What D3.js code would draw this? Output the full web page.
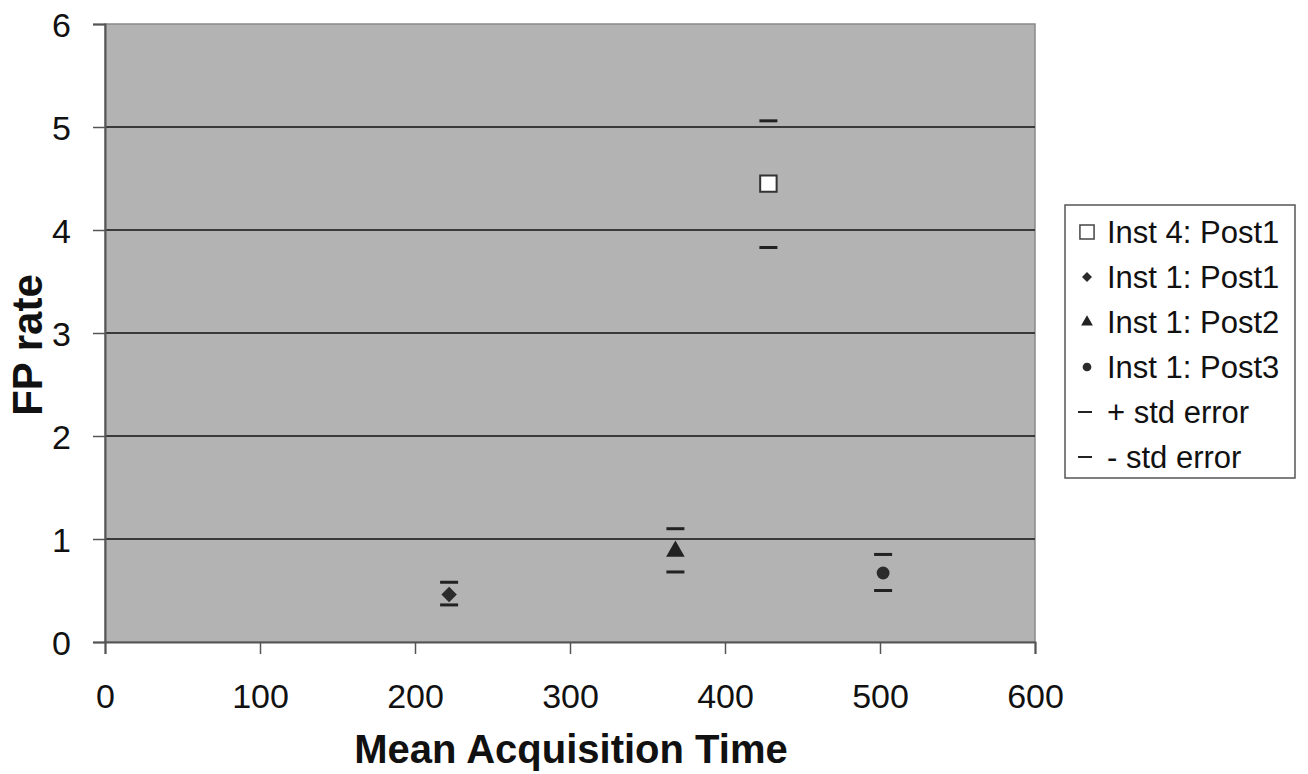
<!DOCTYPE html>
<html>
<head>
<meta charset="utf-8">
<script src="https://cdn.jsdelivr.net/npm/d3@7"></script>
<style>
  body { margin: 0; background: #fff; }
  svg { font-family: Arial, "Liberation Sans", sans-serif; }
</style>
</head>
<body>
<svg id="chart" width="1308" height="774"></svg>
<script>
// series
const seriesNames = ["Inst 4: Post1", "Inst 1: Post1", "Inst 1: Post2", "Inst 1: Post3"];
const meanTime = [428, 222, 368, 502];
const fpRate = [4.45, 0.46, 0.88, 0.67];
const upperErr = [5.06, 0.58, 1.10, 0.85];
const lowerErr = [3.83, 0.36, 0.68, 0.50];
const xTicks = [0, 100, 200, 300, 400, 500, 600];
const yTicks = [0, 1, 2, 3, 4, 5, 6];
const errLabels = ["+ std error", "- std error"];

const margin = { top: 24, right: 273, bottom: 132, left: 105 },
      width = 1308 - margin.left - margin.right,
      height = 774 - margin.top - margin.bottom;

const svg = d3.select("#chart");
const g = svg.append("g").attr("transform", `translate(${margin.left}, ${margin.top})`);

const x = d3.scaleLinear().domain([0, 600]).range([0, width]);
const y = d3.scaleLinear().domain([0, 6]).range([height, 0]);

// plot background
g.append("rect")
  .attr("width", width).attr("height", height)
  .attr("fill", "#b3b3b3")
  .attr("stroke", "#8a8a8a").attr("stroke-width", 1.5);

// gridlines
g.append("g").selectAll("line")
  .data(yTicks.filter(d => d > 0 && d < 6))
  .join("line")
  .attr("x1", 0).attr("x2", width)
  .attr("y1", d => y(d)).attr("y2", d => y(d))
  .attr("stroke", "#3a3a3a").attr("stroke-width", 2);

// axes
const xAxis = g.append("g")
  .attr("transform", `translate(0, ${height})`)
  .call(d3.axisBottom(x).tickValues(xTicks).tickFormat(d3.format("d")).tickSize(12).tickPadding(30));
const yAxis = g.append("g")
  .call(d3.axisLeft(y).tickValues(yTicks).tickFormat(d3.format("d")).tickSize(12).tickPadding(22));

[xAxis, yAxis].forEach(a => {
  a.select(".domain").attr("stroke", "#555").attr("stroke-width", 2);
  a.selectAll(".tick line").attr("stroke", "#555").attr("stroke-width", 1.5);
  a.selectAll("text").attr("font-size", 34).attr("fill", "#111")
   .attr("font-family", "Arial, 'Liberation Sans', sans-serif");
});
yAxis.selectAll("text").attr("dy", "0.36em");

// error bars
const capW = 18;
const errData = meanTime.flatMap((t, i) => [
  { t: t, v: upperErr[i] }, { t: t, v: lowerErr[i] }
]);
g.append("g").selectAll("line")
  .data(errData)
  .join("line")
  .attr("x1", d => x(d.t) - capW / 2).attr("x2", d => x(d.t) + capW / 2)
  .attr("y1", d => y(d.v)).attr("y2", d => y(d.v))
  .attr("stroke", "#222").attr("stroke-width", 3);

// markers (diamond = rotated square)
const symbols = [d3.symbolSquare, d3.symbolSquare, d3.symbolTriangle, d3.symbolCircle];
const rotations = [0, 45, 0, 0];
const plotSizes = [270, 120, 150, 130];
const fills = ["#fff", "#2b2b2b", "#222", "#2b2b2b"];
const strokes = ["#333", "none", "none", "none"];

g.append("g").selectAll("path")
  .data(seriesNames)
  .join("path")
  .attr("transform", (d, i) => `translate(${x(meanTime[i])}, ${y(fpRate[i])}) rotate(${rotations[i]})`)
  .attr("d", (d, i) => d3.symbol().type(symbols[i]).size(plotSizes[i])())
  .attr("fill", (d, i) => fills[i])
  .attr("stroke", (d, i) => strokes[i])
  .attr("stroke-width", 2);

// axis titles
svg.append("text")
  .attr("x", margin.left + width / 2 + 1).attr("y", 763)
  .attr("text-anchor", "middle")
  .attr("font-size", 40).attr("font-weight", "bold").attr("fill", "#111")
  .text("Mean Acquisition Time");

svg.append("text")
  .attr("transform", "translate(42, 345) rotate(-90)")
  .attr("text-anchor", "middle")
  .attr("font-size", 42).attr("font-weight", "bold").attr("fill", "#111")
  .text("FP rate");

// legend
const legend = svg.append("g").attr("transform", "translate(1065, 205)");
legend.append("rect")
  .attr("width", 230).attr("height", 273)
  .attr("fill", "#fff").attr("stroke", "#555").attr("stroke-width", 1.5);

const legendItems = seriesNames.concat(errLabels);
const legendSizes = [200, 50, 60, 60];
const rowH = 45, firstRow = 27;

legendItems.forEach((name, i) => {
  const row = legend.append("g").attr("transform", `translate(0, ${firstRow + i * rowH})`);
  if (i < 4) {
    row.append("path")
      .attr("transform", `translate(22, 0) rotate(${rotations[i]})`)
      .attr("d", d3.symbol().type(symbols[i]).size(legendSizes[i])())
      .attr("fill", fills[i])
      .attr("stroke", i === 0 ? "#444" : "none")
      .attr("stroke-width", 1.5);
  } else {
    row.append("line")
      .attr("x1", 13).attr("x2", 27).attr("y1", 0).attr("y2", 0)
      .attr("stroke", "#222").attr("stroke-width", 2);
  }
  row.append("text")
    .attr("x", 42).attr("y", 0).attr("dy", "0.36em")
    .attr("font-size", 31).attr("fill", "#111")
    .text(name);
});
</script>
</body>
</html>
